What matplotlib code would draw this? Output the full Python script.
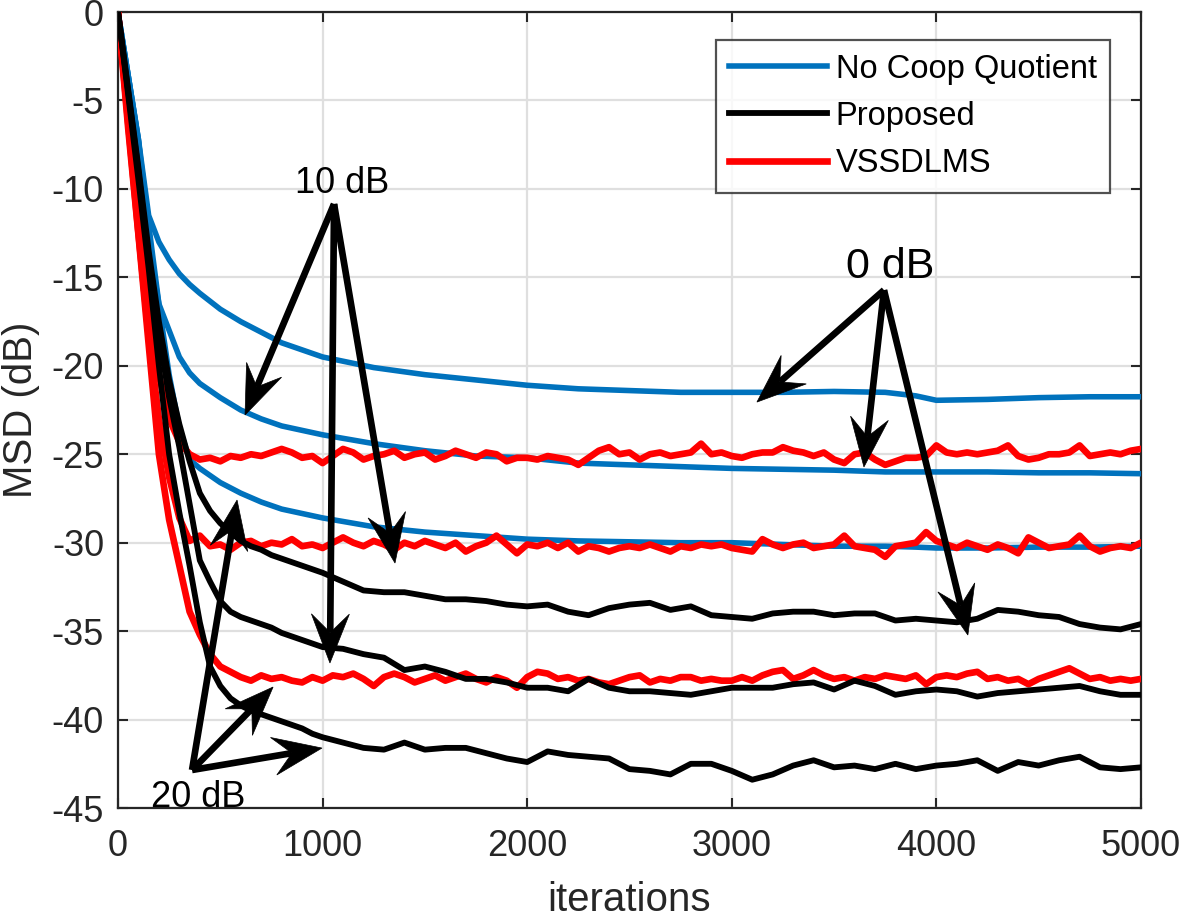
import matplotlib
matplotlib.use('Agg')
import matplotlib.pyplot as plt
import numpy as np
from matplotlib.patches import Polygon
from matplotlib.lines import Line2D
from matplotlib.transforms import IdentityTransform

plt.rcParams['font.family'] = ['Liberation Sans', 'DejaVu Sans']
plt.rcParams['axes.unicode_minus'] = False

# ---------------- data ----------------
it_blue = [0, 50, 100, 150, 200, 250, 300, 350, 400, 500, 600, 700, 800, 1000,
           1250, 1500, 1750, 2000, 2250, 2500, 2750, 3000, 3250, 3500, 3750,
           3900, 4000, 4250, 4500, 4750, 5000]
blue_0dB = [0, -3.6, -7.2, -11.5, -13.0, -14.0, -14.8, -15.4, -15.9, -16.8, -17.5,
            -18.1, -18.7, -19.5, -20.1, -20.5, -20.8, -21.1, -21.3, -21.4, -21.5,
            -21.5, -21.5, -21.45, -21.5, -21.7, -21.95, -21.9, -21.8, -21.75, -21.75]
blue_10dB = [0, -3.6, -7.2, -13.0, -16.5, -18.0, -19.5, -20.4, -21.0, -21.8, -22.5,
             -23.0, -23.4, -23.9, -24.4, -24.8, -25.1, -25.2, -25.5, -25.6, -25.7,
             -25.8, -25.85, -25.9, -26.0, -26.0, -26.0, -26.0, -26.05, -26.05, -26.1]
blue_20dB = [0, -3.6, -7.3, -12.0, -16.5, -20.5, -23.5, -25.3, -25.8, -26.6, -27.2,
             -27.7, -28.1, -28.6, -29.1, -29.4, -29.6, -29.8, -29.9, -29.95, -30.0,
             -30.0, -30.1, -30.2, -30.2, -30.25, -30.3, -30.3, -30.25, -30.25, -30.2]

it_black = [0, 50, 100, 150, 200, 250, 300, 350, 400, 450, 500, 550, 600, 650,
            700, 750, 800, 850, 900, 950,
            1000, 1100, 1200, 1300, 1400, 1500, 1600, 1700, 1800, 1900,
            2000, 2100, 2200, 2300, 2400, 2500, 2600, 2700, 2800, 2900,
            3000, 3100, 3200, 3300, 3400, 3500, 3600, 3700, 3800, 3900,
            4000, 4100, 4200, 4300, 4400, 4500, 4600, 4700, 4800, 4900, 5000]
black_0dB = [0, -4.4, -8.8, -13.5, -17.5, -20.8, -23.3, -25.4, -27.2, -28.2,
             -28.9, -29.4, -29.9, -30.2, -30.4, -30.7, -30.9, -31.1, -31.3, -31.5,
             -31.7, -32.2, -32.7, -32.8, -32.8, -33.0, -33.2, -33.2, -33.3, -33.5,
             -33.6, -33.5, -33.9, -34.1, -33.7, -33.5, -33.4, -33.8, -33.6, -34.1,
             -34.2, -34.3, -34.0, -33.9, -33.9, -34.1, -34.0, -34.0, -34.4, -34.3,
             -34.4, -34.5, -34.3, -33.8, -33.9, -34.1, -34.2, -34.6, -34.8, -34.9, -34.6]
black_10dB = [0, -4.5, -9.0, -14.0, -18.2, -21.8, -24.6, -27.8, -31.0, -32.2,
              -33.3, -33.9, -34.2, -34.4, -34.6, -34.8, -35.1, -35.3, -35.5, -35.7,
              -35.9, -36.0, -36.3, -36.5, -37.2, -37.0, -37.3, -37.7, -37.7, -37.9,
              -38.2, -38.2, -38.4, -37.7, -38.2, -38.4, -38.4, -38.5, -38.6, -38.4,
              -38.2, -38.2, -38.2, -38.0, -37.9, -38.3, -37.8, -38.1, -38.6, -38.4,
              -38.3, -38.4, -38.7, -38.5, -38.4, -38.3, -38.2, -38.1, -38.4, -38.6, -38.6]
black_20dB = [0, -4.7, -9.5, -14.5, -20.0, -25.0, -28.3, -31.3, -34.5, -37.0,
              -38.1, -38.8, -39.2, -39.5, -39.7, -39.9, -40.1, -40.3, -40.5, -40.8,
              -41.0, -41.3, -41.6, -41.7, -41.3, -41.7, -41.6, -41.6, -41.9, -42.2,
              -42.4, -41.8, -42.0, -42.1, -42.2, -42.8, -42.9, -43.1, -42.5, -42.5,
              -42.9, -43.4, -43.1, -42.6, -42.3, -42.7, -42.6, -42.8, -42.5, -42.8,
              -42.6, -42.5, -42.3, -42.9, -42.4, -42.6, -42.3, -42.1, -42.7, -42.8, -42.7]

it_red = list(range(0, 5001, 50))
red_0dB = [0, -6.0, -12.0, -17.0, -20.5, -23.0, -24.3, -25.0, -25.3, -25.2,
           -25.4, -25.1, -25.2, -25.0, -25.1, -24.9, -24.7, -24.9, -25.2, -25.1,
           -25.5, -25.1, -24.7, -24.9, -25.3, -25.1, -25.0, -24.8, -25.2, -25.0,
           -24.9, -25.3, -25.1, -24.8, -25.0, -25.2, -24.9, -25.0, -25.4, -25.2,
           -25.2, -25.3, -25.1, -25.2, -25.3, -25.6, -25.2, -24.8, -24.6, -25.0,
           -24.9, -25.3, -25.0, -24.9, -25.1, -25.0, -24.9, -24.4, -25.0, -24.9,
           -25.1, -25.2, -25.0, -24.9, -24.9, -24.6, -24.8, -24.9, -25.1, -24.9,
           -25.3, -25.5, -25.0, -24.9, -25.3, -25.6, -25.4, -25.2, -25.2, -25.1,
           -24.5, -24.9, -25.0, -24.9, -25.0, -24.9, -24.8, -24.5, -25.1, -25.3,
           -25.2, -25.0, -25.0, -24.9, -24.5, -25.1, -25.0, -24.9, -25.0, -24.8,
           -24.7]
red_10dB = [0, -6.3, -12.5, -18.3, -23.0, -26.3, -28.6, -29.9, -29.6, -30.2,
            -30.1, -30.4, -30.0, -29.9, -30.2, -30.0, -30.1, -29.8, -30.2, -30.1,
            -30.3, -30.0, -29.7, -30.0, -30.2, -29.9, -30.1, -30.4, -30.0, -30.2,
            -29.9, -30.1, -30.3, -30.0, -30.5, -30.2, -30.0, -29.6, -30.1, -30.6,
            -30.1, -30.2, -30.0, -30.3, -30.0, -30.5, -30.2, -30.3, -30.5, -30.3,
            -30.2, -30.3, -30.1, -30.3, -30.5, -30.2, -30.3, -30.1, -30.2, -30.1,
            -30.3, -30.4, -30.5, -29.8, -30.1, -30.3, -30.1, -30.0, -30.3, -30.2,
            -30.1, -29.6, -30.2, -30.3, -30.4, -30.8, -30.2, -30.1, -30.0, -29.4,
            -29.9, -30.1, -30.3, -30.0, -30.2, -30.4, -30.1, -30.3, -30.6, -29.7,
            -30.0, -30.3, -30.2, -30.1, -29.6, -30.2, -30.5, -30.3, -30.2, -30.3,
            -30.0]
red_20dB = [0, -6.6, -12.6, -18.8, -25.0, -28.7, -31.3, -33.9, -35.2, -36.3,
            -37.0, -37.3, -37.6, -37.8, -37.5, -37.7, -37.6, -37.8, -37.9, -37.6,
            -37.8, -37.5, -37.6, -37.4, -37.7, -38.1, -37.6, -37.4, -37.6, -37.9,
            -37.7, -37.5, -37.8, -37.6, -37.4, -37.7, -37.9, -37.6, -37.8, -38.2,
            -37.6, -37.3, -37.4, -37.7, -37.6, -37.8, -37.7, -37.9, -38.0, -37.8,
            -37.6, -37.5, -37.9, -37.7, -37.8, -37.6, -37.6, -37.8, -37.7, -37.8,
            -37.8, -37.6, -37.8, -37.5, -37.3, -37.2, -37.7, -37.5, -37.2, -37.5,
            -37.7, -37.6, -37.8, -37.6, -37.7, -37.5, -37.6, -37.7, -37.5, -38.0,
            -37.6, -37.5, -37.6, -37.4, -37.3, -37.7, -37.6, -37.8, -37.7, -38.0,
            -37.7, -37.5, -37.3, -37.1, -37.4, -37.7, -37.6, -37.8, -37.7, -37.8,
            -37.7]

series_labels = ['No Coop Quotient', 'Proposed', 'VSSDLMS']
x_ticks = [0, 1000, 2000, 3000, 4000, 5000]
y_ticks = [0, -5, -10, -15, -20, -25, -30, -35, -40, -45]

# annotation groups: (label, label position, arrow start, arrow tips)
ann_10dB = ('10 dB', (1095, -9.67), (1056, -10.85), [(621, -22.78), (1036, -36.8), (1354, -31.15)])
ann_0dB = ('0 dB', (3773, -14.41), (3744, -15.72), [(3123, -22.05), (3646, -25.72), (4154, -35.22)])
ann_20dB = ('20 dB', (391, -44.38), (362, -42.85), [(582, -27.59), (758, -38.16), (997, -41.61)])

# ---------------- figure ----------------
BLUE = '#0072BD'
RED = '#FF0000'
BLACK = '#000000'
DARK = '#262626'
LW_BLUE, LW_RED, LW_BLACK = 4.0, 4.8, 4.2

fig = plt.figure(figsize=(11.81, 9.18), dpi=100)
ax = fig.add_axes([0.0999, 0.1198, 0.8662, 0.8671])

for y in (blue_0dB, blue_10dB, blue_20dB):
    ax.plot(it_blue, y, color=BLUE, lw=LW_BLUE, solid_joinstyle='round', zorder=3)
for y in (red_0dB, red_10dB, red_20dB):
    ax.plot(it_red, y, color=RED, lw=LW_RED, solid_joinstyle='round', zorder=4)
for y in (black_0dB, black_10dB, black_20dB):
    ax.plot(it_black, y, color=BLACK, lw=LW_BLACK, solid_joinstyle='round', zorder=5)

ax.set_xlim(0, 5000)
ax.set_ylim(-45, 0)
ax.set_xticks(x_ticks)
ax.set_yticks(y_ticks)
ax.set_xticklabels([str(v) for v in x_ticks])
ax.set_yticklabels([str(v) for v in y_ticks])
ax.grid(True, color='#dfdfdf', lw=1.6, zorder=0)
ax.set_axisbelow(True)
ax.tick_params(direction='in', length=7, width=1.5, colors=DARK, labelsize=26,
               top=True, right=True, pad=10)
ax.tick_params(axis='x', pad=15)
for s in ax.spines.values():
    s.set_color(DARK)
    s.set_linewidth(1.6)
ax.set_xlabel('iterations', fontsize=29, color=DARK, labelpad=12)
ax.set_ylabel('MSD (dB)', fontsize=29, color=DARK, labelpad=8)

handles = [Line2D([], [], color=BLUE, lw=LW_BLUE),
           Line2D([], [], color=BLACK, lw=LW_BLACK),
           Line2D([], [], color=RED, lw=LW_RED)]
leg = ax.legend(handles, series_labels, loc='upper right', bbox_to_anchor=(0.970, 0.965),
                borderaxespad=0, fontsize=23.5, frameon=True, fancybox=False,
                handlelength=3.0, handletextpad=0.25, labelspacing=0.5,
                borderpad=0.42)
leg.get_frame().set_edgecolor(DARK)
leg.get_frame().set_linewidth(1.6)
leg.set_zorder(10)


def draw_arrow(start, tip, lw=4.8, L=49.0, W=19.0, notch=0.62):
    p0 = ax.transData.transform(start)
    p1 = ax.transData.transform(tip)
    d = p1 - p0
    u = d / np.hypot(*d)
    n = np.array([-u[1], u[0]])
    base = p1 - L * u
    nb = p1 - notch * L * u
    pts = [p1, base + W * n, nb, base - W * n]
    poly = Polygon(pts, closed=True, facecolor='black', edgecolor='black', lw=0.5,
                   transform=IdentityTransform(), clip_on=False, zorder=8)
    fig.add_artist(poly)
    ln = Line2D([p0[0], nb[0]], [p0[1], nb[1]], color='black', lw=lw,
                solid_capstyle='butt', transform=IdentityTransform(), zorder=8)
    fig.add_artist(ln)


for label, tpos, start, tips in (ann_10dB, ann_0dB, ann_20dB):
    for tip in tips:
        draw_arrow(start, tip)
    fs = 31 if label == '0 dB' else 26
    ax.text(tpos[0], tpos[1], label, fontsize=fs, ha='center', va='center',
            color='black', zorder=9)

fig.savefig('out.png', dpi=100)
